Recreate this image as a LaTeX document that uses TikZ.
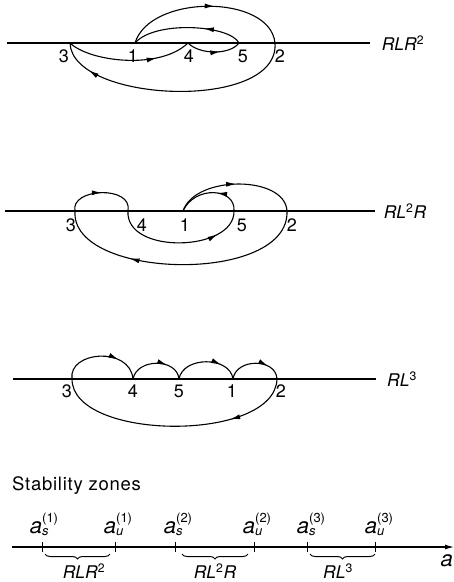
\documentclass[tikz,border=0pt]{standalone}
\usepackage{fontspec}
\setmainfont{TeX Gyre Heros}
\usepackage{amsmath}
\usetikzlibrary{arrows.meta,decorations.markings,decorations.pathreplacing}
\tikzset{
 curve/.style={line width=1.1pt},
 arr/.style={postaction={decorate},decoration={markings,mark=at position #1 with {\arrow{Latex[length=10pt,width=5pt]}}}},
 num/.style={font=\fontsize{18}{18}\selectfont, inner sep=0pt},
 seqlab/.style={font=\fontsize{17.5}{17.5}\selectfont\itshape, inner sep=0pt},
 axlab/.style={font=\fontsize{22}{22}\selectfont, inner sep=0pt, anchor=base},
 axisline/.style={line width=1.1pt},
 bracestyle/.style={line width=1pt, decorate, decoration={brace,mirror,amplitude=5pt}},
}
\newcommand{\alab}[2]{\textit{a}\rlap{\raisebox{-2pt}{\fontsize{13}{13}\selectfont\textit{#1}}}\raisebox{11pt}{\fontsize{13}{13}\selectfont(#2)}}
\begin{document}
\begin{tikzpicture}[x=1pt,y=-1pt]
\useasboundingbox (0,0) rectangle (454,582);
% ---------- panel 1: RLR^2
\coordinate (al) at (7,43); \coordinate (ar) at (370,43);
\coordinate (a3) at (70,43); \coordinate (a1) at (135,43); \coordinate (a4) at (188,43);
\coordinate (a5) at (239,43); \coordinate (a2) at (275,43);
\draw[axisline] (al) -- (ar);
\node[num] (la3) at (64,56) {3};
\node[num] (la1) at (133,56) {1};
\node[num] (la4) at (189,56) {4};
\node[num] (la5) at (243,56) {5};
\node[num] (la2) at (280,56) {2};
\node[seqlab] (na) at (403,43) {RLR\textsuperscript{\upshape 2}};
\draw[curve,arr=0.55] (a1) .. controls (150,-6) and (270,-6) .. (a2);
\draw[curve,arr=0.35] (a5) .. controls (230,25) and (155,20) .. (a1);
\draw[curve,arr=0.72] (a3) .. controls (90,62) and (160,70) .. (a4);
\draw[curve,arr=0.62] (a4) .. controls (200,55) and (230,55) .. (a5);
\draw[curve,arr=0.86] (a2) .. controls (280,112) and (72,103) .. (a3);
% ---------- panel 2: RL^2R
\coordinate (bl) at (5,211); \coordinate (br) at (375,211);
\coordinate (b3) at (75,211); \coordinate (b4) at (128,211); \coordinate (b1) at (183,211);
\coordinate (b5) at (234,211); \coordinate (b2) at (287,211);
\draw[axisline] (bl) -- (br);
\node[num] (lb3) at (71,225) {3};
\node[num] (lb4) at (142,225) {4};
\node[num] (lb1) at (185,225) {1};
\node[num] (lb5) at (242,225) {5};
\node[num] (lb2) at (292,225) {2};
\node[seqlab] (nb) at (405,211) {RL\textsuperscript{\upshape 2}R};
\draw[curve,arr=0.5] (b3) .. controls (70,188) and (133,185) .. (b4);
\draw[curve,arr=0.78] (b4) .. controls (125,255) and (235,252) .. (b5);
\draw[curve,arr=0.4] (b5) .. controls (236,188) and (195,185) .. (b1);
\draw[curve,arr=0.5] (b1) .. controls (195,175) and (285,175) .. (b2);
\draw[curve,arr=0.7] (b2) .. controls (290,285) and (70,280) .. (b3);
% ---------- panel 3: RL^3
\coordinate (cl) at (13,379); \coordinate (cr) at (376,379);
\coordinate (c3) at (72,379); \coordinate (c4) at (133,379); \coordinate (c5) at (179,379);
\coordinate (c1) at (233,379); \coordinate (c2) at (277,379);
\draw[axisline] (cl) -- (cr);
\node[num] (lc3) at (67,391) {3};
\node[num] (lc4) at (133,391) {4};
\node[num] (lc5) at (179,391) {5};
\node[num] (lc1) at (232,391) {1};
\node[num] (lc2) at (281,391) {2};
\node[seqlab] (nc) at (402,379) {RL\textsuperscript{\upshape 3}};
\draw[curve,arr=0.7] (c3) .. controls (68,351) and (130,346) .. (c4);
\draw[curve,arr=0.68] (c4) .. controls (137,358) and (177,358) .. (c5);
\draw[curve,arr=0.72] (c5) .. controls (183,356) and (230,356) .. (c1);
\draw[curve,arr=0.72] (c1) .. controls (236,358) and (276,358) .. (c2);
\draw[curve,arr=0.27] (c2) .. controls (275,443) and (72,441) .. (c3);
% ---------- stability zones
\node[anchor=base west, font=\fontsize{18.5}{18.5}\selectfont\addfontfeature{LetterSpace=4}, inner sep=0pt] (sz) at (12,490) {Stability zones};
\coordinate (x0) at (12,547); \coordinate (x1) at (454,547);
\draw[axisline,-{Latex[length=9pt,width=5pt]}] (x0) -- (x1);
\node[font=\fontsize{22}{22}\selectfont\itshape, inner sep=0pt, anchor=east] (xa) at (453,561) {a};
\foreach \t in {42,115,175,254,307,375} {
  \coordinate (tk\t) at (\t,547);
  \draw[line width=1pt] (tk\t) ++(0,-5) -- ++(0,10);
}
\node[axlab] (s1) at (44,533) {\alab{s}{1}};
\node[axlab] (u1) at (118,533) {\alab{u}{1}};
\node[axlab] (s2) at (178,533) {\alab{s}{2}};
\node[axlab] (u2) at (257,533) {\alab{u}{2}};
\node[axlab] (s3) at (311,533) {\alab{s}{3}};
\node[axlab] (u3) at (379,533) {\alab{u}{3}};
\coordinate (z1a) at (45,554); \coordinate (z1b) at (110,554);
\coordinate (z2a) at (182,554); \coordinate (z2b) at (248,554);
\coordinate (z3a) at (310,554); \coordinate (z3b) at (375,554);
\draw[bracestyle] (z1a) -- (z1b);
\draw[bracestyle] (z2a) -- (z2b);
\draw[bracestyle] (z3a) -- (z3b);
\node[seqlab] (r1) at (84,571) {RLR\textsuperscript{\upshape 2}};
\node[seqlab] (r2) at (215,571) {RL\textsuperscript{\upshape 2}R};
\node[seqlab] (r3) at (338,571) {RL\textsuperscript{\upshape 3}};
\end{tikzpicture}
\end{document}
